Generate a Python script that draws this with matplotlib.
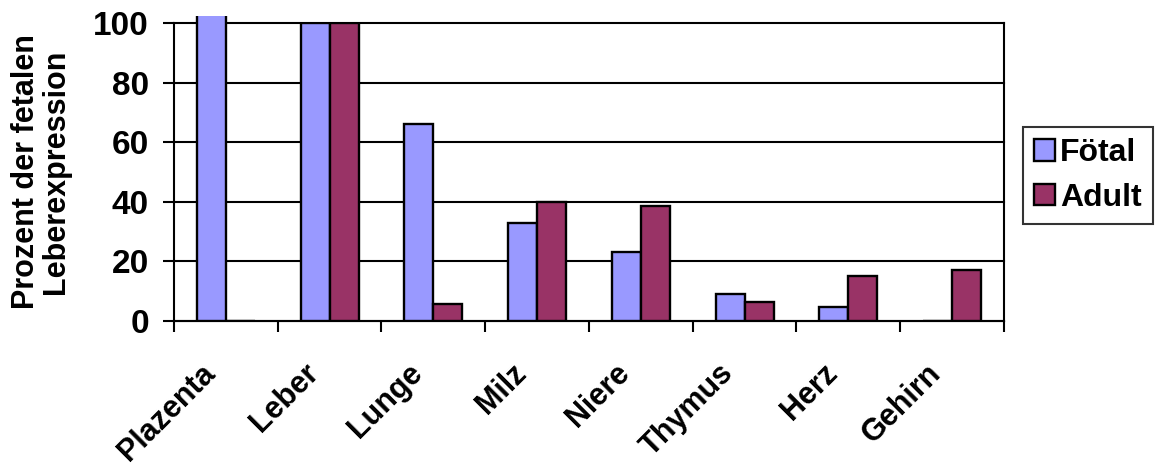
import numpy as np
import matplotlib.pyplot as plt
from matplotlib.patches import Rectangle
from matplotlib.transforms import ScaledTranslation

plt.rcParams['font.family'] = ['Liberation Sans', 'DejaVu Sans']
plt.rcParams['font.weight'] = 'bold'

organe = ["Plazenta", "Leber", "Lunge", "Milz", "Niere", "Thymus", "Herz", "Gehirn"]
foetal = [103, 100, 66, 33, 23, 9, 4.7, 0]
adult = [0, 100, 5.5, 40, 38.5, 6.4, 15.2, 17]
yticks = [0, 20, 40, 60, 80, 100]

fig = plt.figure(figsize=(11.56, 4.66), dpi=100)
ax = fig.add_axes([0.1505, 0.3118, 0.718, 0.638])

x = np.arange(len(organe)) + 0.5
w = 0.28
b1 = ax.bar(x - w / 2, foetal, w, color="#9999FF", edgecolor="black", linewidth=1.7,
            label="Fötal", zorder=3)
b2 = ax.bar(x + w / 2, adult, w, color="#993366", edgecolor="black", linewidth=1.7,
            label="Adult", zorder=3)

# Plazenta overshoots the scale: let it run a little past the top, cut off without a lid
b1[0].set_clip_path(Rectangle((0, 0), 1, 1.025, transform=ax.transAxes))

ax.set_xlim(0, len(organe))
ax.set_ylim(0, 100)
ax.set_yticks(yticks)
ax.yaxis.grid(True, color="black", linewidth=1.5, zorder=0)
ax.set_axisbelow(True)
for gl in ax.get_ygridlines():
    gl.set_clip_on(False)

ax.spines["top"].set_visible(False)
for s in ["left", "right", "bottom"]:
    ax.spines[s].set_linewidth(1.5)

ax.set_xticks(np.arange(len(organe) + 1))
ax.set_xticklabels([])
ax.set_xticks(x, minor=True)
ax.set_xticklabels(organe, minor=True, rotation=45, ha="right", va="top",
                   rotation_mode="anchor", fontsize=22, fontweight="bold")
ax.tick_params(axis="x", which="major", direction="out", length=8, width=1.5)
ax.tick_params(axis="x", which="minor", length=0, pad=27)
ax.tick_params(axis="y", direction="out", length=8, width=1.5, labelsize=24, pad=10)
shift = ScaledTranslation(-26 / 100, 0, fig.dpi_scale_trans)
for lab in ax.get_xticklabels(minor=True):
    lab.set_transform(lab.get_transform() + shift)

ax.set_ylabel("Prozent der fetalen\nLeberexpression", fontsize=22, fontweight="bold",
              linespacing=1.0)
ax.yaxis.set_label_coords(-0.124, 0.5)

leg = fig.legend(handles=[b1, b2], loc="upper left",
                 bbox_to_anchor=(1023 / 1156, 1 - 127 / 466), borderaxespad=0,
                 frameon=True, fancybox=False, edgecolor="black",
                 handlelength=0.65, handleheight=0.65, handletextpad=0.15,
                 borderpad=0.35, labelspacing=0.45, prop={"weight": "bold", "size": 23})
leg.get_frame().set_linewidth(1.5)

fig.savefig("out.png", dpi=100)
